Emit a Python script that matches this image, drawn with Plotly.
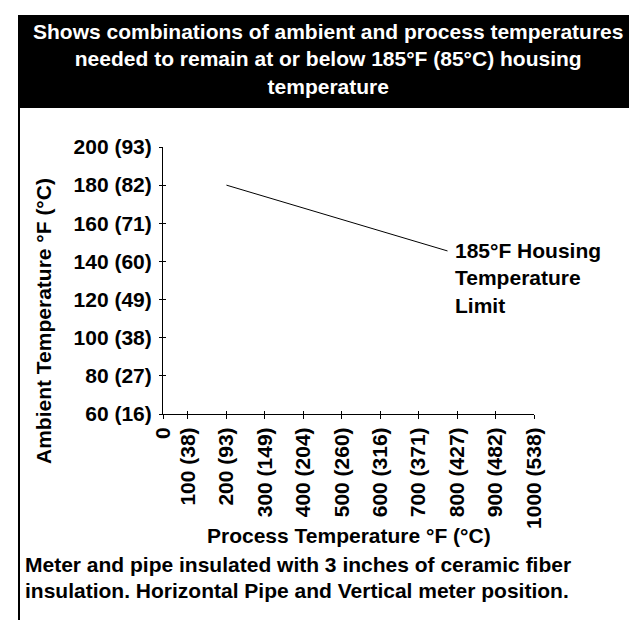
import plotly.graph_objects as go

# ---------------- data ----------------
process_temp_f = [200, 775]          # process temperature (°F) along the limit line
ambient_temp_f = [180, 145.5]        # ambient temperature (°F) along the limit line

x_tick_vals = [35, 100, 200, 300, 400, 500, 600, 700, 800, 900, 1000]
x_tick_text = ["0", "100 (38)", "200 (93)", "300 (149)", "400 (204)", "500 (260)",
               "600 (316)", "700 (371)", "800 (427)", "900 (482)", "1000 (538)"]
y_tick_vals = [60, 80, 100, 120, 140, 160, 180, 200]
y_tick_text = ["60 (16)", "80 (27)", "100 (38)", "120 (49)", "140 (60)",
               "160 (71)", "180 (82)", "200 (93)"]

title_lines = ["Shows combinations of ambient and process temperatures",
               "needed to remain at or below 185°F (85°C) housing",
               "temperature"]
limit_label = ["185°F Housing", "Temperature", "Limit"]
caption_lines = ["Meter and pipe insulated with 3 inches of ceramic fiber",
                 "insulation. Horizontal Pipe and Vertical meter position."]
x_title = "Process Temperature °F (°C)"
y_title = "Ambient Temperature °F (°C)"

# ---------------- layout helpers ----------------
W, H = 637, 620
L, R, T, B = 155, 111, 139, 214
PW = W - L - R
PH = H - T - B
FONT = "Liberation Sans, Arial, sans-serif"
FS = 21


def px(xp):
    return (xp - L) / PW


def py(yp):
    return (H - B - yp) / PH


bold = dict(family=FONT, size=FS, color="black", weight="bold")

fig = go.Figure()
fig.add_trace(go.Scatter(x=process_temp_f, y=ambient_temp_f, mode="lines",
                         line=dict(color="black", width=1),
                         showlegend=False, hoverinfo="skip"))
# helper trace so the overlay axes (inner halves of the crossing ticks) are drawn
fig.add_trace(go.Scatter(x=process_temp_f, y=ambient_temp_f, mode="markers",
                         marker=dict(opacity=0), xaxis="x2", yaxis="y2",
                         showlegend=False, hoverinfo="skip"))

common = dict(showgrid=False, zeroline=False, tickcolor="black", tickwidth=1,
              tickmode="array", fixedrange=True)

fig.update_layout(
    width=W, height=H,
    margin=dict(l=L, r=R, t=T, b=B, pad=0),
    paper_bgcolor="white", plot_bgcolor="white",
    font=dict(family=FONT, size=FS, color="black"),
    xaxis=dict(range=[35, 1000], tickvals=x_tick_vals, ticktext=x_tick_text,
               tickangle=-90, ticks="outside", ticklen=4, showline=True,
               linecolor="black", linewidth=1, tickfont=bold, **common),
    yaxis=dict(range=[60, 200], tickvals=y_tick_vals, ticktext=y_tick_text,
               ticks="outside", ticklen=3, showline=True, linecolor="black",
               linewidth=1, tickfont=bold, ticklabelstandoff=3, **common),
    xaxis2=dict(range=[35, 1000], tickvals=x_tick_vals, ticks="inside", ticklen=3,
                showticklabels=False, showline=False, overlaying="x", anchor="y2",
                side="bottom", **common),
    yaxis2=dict(range=[60, 200], tickvals=y_tick_vals, ticks="inside", ticklen=3,
                showticklabels=False, showline=False, overlaying="y", anchor="x2",
                side="left", **common),
    shapes=[
        dict(type="rect", xref="paper", yref="paper", x0=px(10), x1=px(645),
             y0=py(100), y1=py(7), fillcolor="black", line=dict(width=0), layer="below"),
        dict(type="line", xref="paper", yref="paper", x0=px(11), x1=px(11),
             y0=py(100), y1=py(625), line=dict(color="black", width=2)),
    ],
)

ann = []
ann.append(dict(text="<br>".join(title_lines), xref="paper", yref="paper",
                x=px(320), y=py(51), xanchor="center", yanchor="middle",
                showarrow=False, align="center",
                font=dict(family=FONT, size=FS, color="white", weight="bold")))
ann.append(dict(text=x_title, xref="paper", yref="paper", x=px(340.5), y=py(527),
                xanchor="center", yanchor="middle", showarrow=False, font=bold))
ann.append(dict(text=y_title, xref="paper", yref="paper", x=px(35), y=py(313),
                xanchor="center", yanchor="middle", textangle=-90,
                showarrow=False, font=bold))
ann.append(dict(text="<br>".join(limit_label), xref="x", yref="y",
                x=788, y=131.5, xanchor="left", yanchor="middle", align="left",
                showarrow=False, font=bold))
for i, line in enumerate(caption_lines):
    ann.append(dict(text=line, xref="paper", yref="paper", x=px(15),
                    y=py(556 + 26 * i), xanchor="left", yanchor="middle",
                    align="left", showarrow=False, font=bold))
fig.update_layout(annotations=ann)

fig.write_html("out.html")
